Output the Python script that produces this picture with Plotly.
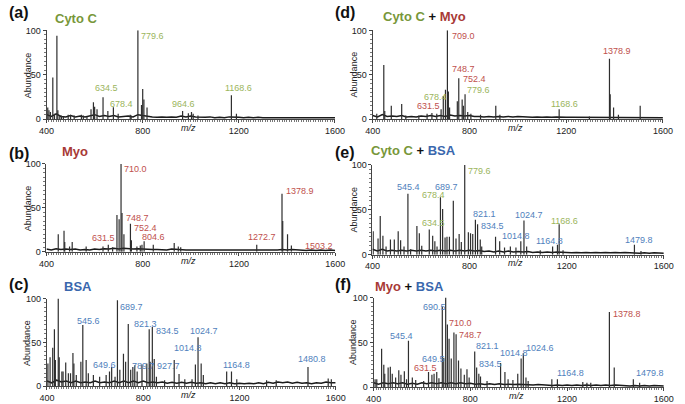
import plotly.graph_objects as go

# ---------------- DATA ----------------
# noise grid m/z (every 20 units)
noise_mz = list(range(400, 1601, 20))

# (a) Cyto C
a_peak_mz = [405, 410, 416, 426, 433, 443, 447, 455, 462, 470, 490, 500, 515, 545, 553, 568,
             585, 595, 600, 610, 635, 655, 678, 698, 748, 752, 780, 795, 800, 805, 818,
             966, 990, 1003, 1010, 1030, 1169, 1190]
a_peak_ab = [13, 10, 8, 47, 6, 94, 10, 4, 4, 3, 5, 5, 4, 5, 4, 3,
             11, 19, 14, 11, 24.5, 9, 13.5, 6, 5, 4, 100, 16, 34, 22, 13,
             9, 6.5, 8, 6, 4, 27, 6]
a_noise = [5, 3, 6, 3, 2.5, 4, 2.5, 3.5, 2.5, 4,
           5, 3, 4, 3, 4, 2.5, 3, 3.5, 2.5, 5,
           4, 3, 2.5, 2, 2.5, 2, 2.5, 2, 3.5, 2.5,
           3.5, 2.5, 2, 2, 2.5, 1.5, 2, 1.5, 2.5, 2.5,
           2, 1.5, 2, 1.5, 2, 1.5, 1.5, 2, 1.5, 2,
           1.5, 2, 1.5, 2, 1.5, 2, 1.5, 2, 1.5, 2,
           1.5]
a_labels = ["779.6", "634.5", "678.4", "964.6", "1168.6"]

# (b) Myo
b_peak_mz = [449, 473, 476, 496, 507, 565, 635, 657, 675, 693, 702, 710, 714, 722, 749, 753,
             776, 790, 797, 806, 844, 931, 948, 958, 1274, 1379, 1382, 1402, 1418]
b_peak_ab = [20, 24, 11, 6, 11, 6, 6, 8, 5, 42, 37, 100, 44, 20, 32, 13,
             6, 7, 8, 12, 8, 10, 6, 5, 8, 66, 35, 20, 7]
b_noise = [3, 2, 3.5, 2.5, 3, 2.5, 3, 2, 2.5, 2,
           3, 2.5, 3.5, 3, 4, 3, 4, 3.5, 3, 3.5,
           3, 3, 2.5, 2.5, 2, 2, 3, 2.5, 2, 2,
           2, 2, 2, 1.5, 2, 1.5, 2, 1.5, 2, 1.5,
           2, 1.5, 2, 2, 1.5, 2, 1.5, 2, 2, 2.5,
           2, 2.5, 2, 2, 1.5, 2, 1.5, 2, 1.5, 2,
           1.5]
b_labels = ["710.0", "748.7", "752.4", "804.6", "631.5", "1272.7", "1378.9", "1503.2"]

# (c) BSA
c_peak_mz = [404, 413, 424, 431, 435, 447, 451, 462, 467, 478, 489, 498, 508, 512, 522, 541,
             549, 563, 572, 593, 619, 646, 660, 669, 683, 693, 703, 718, 727, 738, 748, 757,
             765, 775, 795, 815, 825, 829, 838, 846, 855, 889, 929, 949, 973, 1003, 1017,
             1028, 1041, 1050, 1147, 1167, 1189, 1313, 1353, 1485, 1569, 1582]
c_peak_ab = [26, 33, 44, 65, 30, 100, 33, 17, 17, 27, 15, 15, 38, 26, 13, 28,
             70, 30, 15, 13, 11, 13, 17, 22, 11, 98, 19, 37, 28, 71, 19, 22,
             24, 17, 25, 26, 65, 28, 68, 31, 11, 7, 30, 14, 8, 8, 25,
             56, 26, 13, 17, 17, 8, 7, 7, 22, 9, 8]
c_noise = [6, 4, 7, 5, 6, 4, 6, 4, 5, 4,
           6, 4, 5, 4, 6, 4, 6, 4, 6, 4,
           6, 4, 5, 4, 5, 3.5, 4.5, 3.5, 4.5, 3.5,
           4.5, 3.5, 4, 3, 4, 3, 4, 3, 4, 3,
           3.5, 3, 3.5, 3, 4, 3, 4.5, 3.5, 5, 4,
           5, 3.5, 4.5, 3.5, 4, 3, 4, 3.5, 5, 4,
           4]
c_labels = ["545.6", "689.7", "821.3", "834.5", "649.6", "789.7", "927.7", "1014.8",
            "1024.7", "1164.8", "1480.8"]

# (d) Cyto C + Myo
d_peak_mz = [417, 446, 450, 477, 520, 537, 591, 625, 645, 665, 683, 692, 701, 709, 713, 718,
             750, 756, 770, 775, 782, 793, 806, 846, 909, 926, 1171, 1296, 1379, 1382, 1396,
             1416, 1506]
d_peak_ab = [6, 61, 9, 15, 17, 4, 4, 6, 7, 6, 11, 26, 33, 100, 31, 13,
             20, 46, 22, 15, 28, 8, 6, 5, 15, 5, 11, 3, 68, 28, 13,
             5, 15]
d_noise = [4, 2.5, 5, 3, 3.5, 3, 4, 2.5, 3, 2.5,
           3.5, 3, 4, 3, 4, 3, 4.5, 3.5, 4, 3.5,
           4, 3, 3, 2.5, 3, 2.5, 3, 2.5, 3, 2.5,
           3, 2.5, 2.5, 2, 2.5, 2, 2.5, 2, 2.5, 2,
           2, 2, 2, 1.5, 2, 1.5, 2, 1.5, 2, 1.5,
           2, 1.5, 2, 1.5, 2, 1.5, 2, 1.5, 2, 1.5,
           1.5]
d_labels = ["709.0", "1378.9", "748.7", "752.4", "779.6", "678.4", "631.5", "1168.6"]

# (e) Cyto C + BSA
e_peak_mz = [403, 423, 432, 443, 456, 474, 490, 506, 516, 530, 546, 557, 583, 593, 603, 634,
             648, 657, 666, 680, 689, 699, 707, 717, 733, 744, 757, 766, 780, 795, 804, 813,
             824, 833, 844, 850, 907, 924, 944, 968, 991, 1011, 1024, 1035, 1091, 1142, 1162,
             1169, 1185, 1479, 1506]
e_peak_ab = [26, 18, 43, 21, 9, 17, 17, 26, 16, 9, 68, 6, 32, 24, 10, 28,
             21, 15, 9, 64, 51, 19, 20, 20, 60, 18, 23, 14, 100, 25, 24, 23,
             39, 34, 17, 9, 20, 15, 8, 9, 8, 15, 38, 9, 5, 9, 11,
             34, 5, 11, 4]
e_noise = [6, 4, 6, 4, 5, 4, 5, 4, 5, 4,
           5, 4, 5, 4, 5, 4, 5, 4, 5, 4,
           5, 4, 4.5, 3.5, 4, 3, 4, 3, 4, 3,
           3.5, 3, 3.5, 2.5, 3, 2.5, 3, 2.5, 3, 2.5,
           2.5, 2, 2.5, 2, 2.5, 2, 2.5, 2, 2.5, 2,
           2.5, 2, 2.5, 2, 2, 1.5, 2, 1.5, 2, 1.5,
           1.5]
e_labels = ["779.6", "545.4", "689.7", "678.4", "634.5", "821.1", "834.5", "1014.8",
            "1024.7", "1164.8", "1168.6", "1479.8"]

# (f) Myo + BSA
f_peak_mz = [406, 413, 433, 442, 446, 460, 469, 477, 491, 504, 513, 527, 536, 544, 560, 574,
             607, 627, 641, 650, 661, 670, 684, 690, 698, 705, 712, 721, 732, 741, 751, 761,
             775, 786, 795, 818, 826, 835, 842, 869, 925, 943, 956, 976, 996, 1010, 1019,
             1030, 1039, 1137, 1160, 1265, 1282, 1298, 1375, 1395, 1474, 1500]
f_peak_ab = [9, 9, 43, 25, 15, 22, 23, 15, 11, 19, 14, 18, 9, 52, 11, 8,
             7, 17, 14, 15, 17, 10, 90, 33, 100, 70, 54, 32, 61, 59, 30, 21,
             14, 20, 11, 40, 22, 15, 12, 7, 27, 17, 9, 8, 15, 32, 38,
             11, 7, 9, 9, 6, 5, 5, 84, 22, 9, 5]
f_noise = [5, 3.5, 5, 4, 5, 4, 5, 3.5, 4.5, 3.5,
           5, 4, 5, 4, 5, 4, 5, 4, 5, 4,
           4.5, 3.5, 4, 3, 4, 3, 4, 3, 3.5, 3,
           3.5, 3, 3, 2.5, 3, 2.5, 2.5, 2, 2.5, 2,
           2.5, 2, 2.5, 2, 2.5, 2, 2.5, 2, 2.5, 2,
           2.5, 2, 2, 1.5, 2, 1.5, 2, 1.5, 2, 1.5,
           1.5]
f_labels = ["690.5", "710.0", "748.7", "545.4", "821.1", "1014.8", "1024.6", "649.5",
            "834.5", "631.5", "1164.8", "1378.8", "1479.8"]

x_ticks = [400, 800, 1200, 1600]
y_ticks = [0, 50, 100]

# ---------------- LAYOUT / STYLE ----------------
W, H = 685, 404
FONT = "Arial, Liberation Sans, sans-serif"
GREEN_T, RED_T, BLUE_T = "#78973a", "#a83a36", "#3a67ad"
GREEN, RED, BLUE = "#9bb55c", "#c0504d", "#4f7fbd"
COL = {"g": GREEN, "r": RED, "b": BLUE}

# axis boxes in pixels: (left, right, top(100), bottom(0))
AX_PX = {
    "a": (39.6, 335.8, 26, 117),
    "b": (39.5, 336.0, 163, 253),
    "c": (40.0, 336.5, 301, 391),
    "d": (374.5, 672.6, 26, 117),
    "e": (374.3, 673.5, 164, 256),
    "f": (375.5, 673.5, 300, 392),
}
# label positions (m/z of left edge, abundance of centre) and colour key
LBL_POS = {
    "a": [(786, 94), (595, 35), (655, 17), (912, 17), (1135, 35.5)],
    "b": [(715, 94), (722, 39), (756, 27), (787, 17), (581, 16), (1231, 17), (1388, 69), (1466, 7)],
    "c": [(516, 74), (694, 90), (752, 71), (844, 63), (582, 24), (745, 23), (849, 23), (920, 44),
          (986, 63), (1122, 24), (1434, 31)],
    "d": [(719, 94), (1345, 77), (719, 57), (766, 45), (782, 33), (602, 25), (574, 15), (1128, 17)],
    "e": [(784, 93), (492, 75), (650, 75), (594, 66), (594, 35.5), (804, 45), (837, 32), (924, 21),
          (980, 44), (1064, 15), (1127, 38), (1432, 16)],
    "f": [(597, 89), (705, 72), (746, 58), (460, 57), (813, 46), (916, 38), (1023, 44), (590, 32),
          (826, 26), (558, 21), (1151, 16), (1382, 82), (1475, 16)],
}
LBL_COL = {
    "a": "ggggg",
    "b": "rrrrrrrr",
    "c": "bbbbbbbbbbb",
    "d": "rrrrggrg",
    "e": "gbbggbbbbbgb",
    "f": "brrbbbbbbrbrb",
}
LETTER_POS = {"a": (-1, 8), "b": (-1, 152), "c": (-1, 287), "d": (334, 8), "e": (334, 151), "f": (334, 287)}
TITLE_POS = {"a": (46, 14), "b": (53, 150), "c": (55, 289), "d": (383, 12), "e": (371, 149), "f": (375, 289)}
TITLES = {
    "a": [("Cyto C", GREEN_T)],
    "b": [("Myo", RED_T)],
    "c": [("BSA", BLUE_T)],
    "d": [("Cyto C", GREEN_T), (" + ", "#111"), ("Myo", RED_T)],
    "e": [("Cyto C", GREEN_T), (" + ", "#111"), ("BSA", BLUE_T)],
    "f": [("Myo", RED_T), (" + ", "#111"), ("BSA", BLUE_T)],
}
ABUND_X = {"a": 20, "b": 20, "c": 20, "d": 355, "e": 355, "f": 355}

DATA = {
    "a": (a_peak_mz, a_peak_ab, a_noise, a_labels),
    "b": (b_peak_mz, b_peak_ab, b_noise, b_labels),
    "c": (c_peak_mz, c_peak_ab, c_noise, c_labels),
    "d": (d_peak_mz, d_peak_ab, d_noise, d_labels),
    "e": (e_peak_mz, e_peak_ab, e_noise, e_labels),
    "f": (f_peak_mz, f_peak_ab, f_noise, f_labels),
}


def px(x):
    return x / W


def py(y):
    return 1 - y / H


fig = go.Figure()
annotations = []
layout_axes = {}

for i, key in enumerate(["a", "b", "c", "d", "e", "f"], start=1):
    mz, ab, noise, labels = DATA[key]
    xs = "" if i == 1 else str(i)
    xref, yref = "x" + xs, "y" + xs

    # noisy baseline
    fig.add_trace(go.Scatter(x=noise_mz, y=noise, mode="lines", xaxis=xref, yaxis=yref,
                             line=dict(color="#1a1a1a", width=1.5), hoverinfo="skip",
                             showlegend=False))
    # stick peaks
    sx, sy = [], []
    for m, h in zip(mz, ab):
        sx += [m, m, None]
        sy += [0, h, None]
    fig.add_trace(go.Scatter(x=sx, y=sy, mode="lines", xaxis=xref, yaxis=yref,
                             line=dict(color="#2e2e2e", width=1.2), hoverinfo="skip",
                             showlegend=False))

    l, r, t, b = AX_PX[key]
    layout_axes["xaxis" + xs] = dict(
        domain=[px(l), px(r)], range=[400, 1600], anchor=yref,
        tickvals=x_ticks, ticks="outside", ticklen=3, tickcolor="#444",
        showline=True, linecolor="#444", linewidth=1, showgrid=False, zeroline=False,
        tickfont=dict(family=FONT, size=9, color="#222"), ticklabelstandoff=0,
        minor=dict(ticks="outside", ticklen=2, dtick=10, tickcolor="#777", showgrid=False),
    )
    layout_axes["yaxis" + xs] = dict(
        domain=[py(b), py(t)], range=[0, 100], anchor=xref,
        tickvals=y_ticks, ticks="outside", ticklen=3, tickcolor="#444",
        showline=True, linecolor="#444", linewidth=1, showgrid=False, zeroline=False,
        tickfont=dict(family=FONT, size=9, color="#222"), ticklabelstandoff=0,
        minor=dict(ticks="outside", ticklen=2, dtick=5, tickcolor="#777", showgrid=False),
    )

    # peak labels
    for txt, (lx, ly), ck in zip(labels, LBL_POS[key], LBL_COL[key]):
        annotations.append(dict(x=lx, y=ly, xref=xref, yref=yref, text=txt, showarrow=False,
                                xanchor="left", yanchor="middle",
                                font=dict(family=FONT, size=9, color=COL[ck])))
    # m/z axis label
    annotations.append(dict(x=990, y=py(b + 9), xref=xref, yref="paper", text="<i>m/z</i>",
                            showarrow=False, xanchor="center", yanchor="middle",
                            font=dict(family=FONT, size=9, color="#222")))
    # Abundance label
    annotations.append(dict(x=px(ABUND_X[key]), y=py((t + b) / 2), xref="paper", yref="paper",
                            text="Abundance", textangle=-90, showarrow=False,
                            xanchor="center", yanchor="middle",
                            font=dict(family=FONT, size=9, color="#222")))
    # panel letter
    lx, ly = LETTER_POS[key]
    annotations.append(dict(x=px(lx), y=py(ly), xref="paper", yref="paper",
                            text="<b>(%s)</b>" % key, showarrow=False,
                            xanchor="left", yanchor="middle",
                            font=dict(family=FONT, size=16, color="#111")))
    # title
    tx, ty = TITLE_POS[key]
    ttxt = "".join("<span style='color:%s'>%s</span>" % (c, s) for s, c in TITLES[key])
    annotations.append(dict(x=px(tx), y=py(ty), xref="paper", yref="paper",
                            text="<b>%s</b>" % ttxt, showarrow=False,
                            xanchor="left", yanchor="middle",
                            font=dict(family=FONT, size=13, color="#111")))

fig.update_layout(
    width=W, height=H, margin=dict(l=0, r=0, t=0, b=0),
    paper_bgcolor="white", plot_bgcolor="white",
    annotations=annotations, showlegend=False,
    **layout_axes,
)

fig.write_html("out.html", config={"displayModeBar": False},
               post_script="document.body.style.margin='0';document.body.style.overflow='hidden';")
